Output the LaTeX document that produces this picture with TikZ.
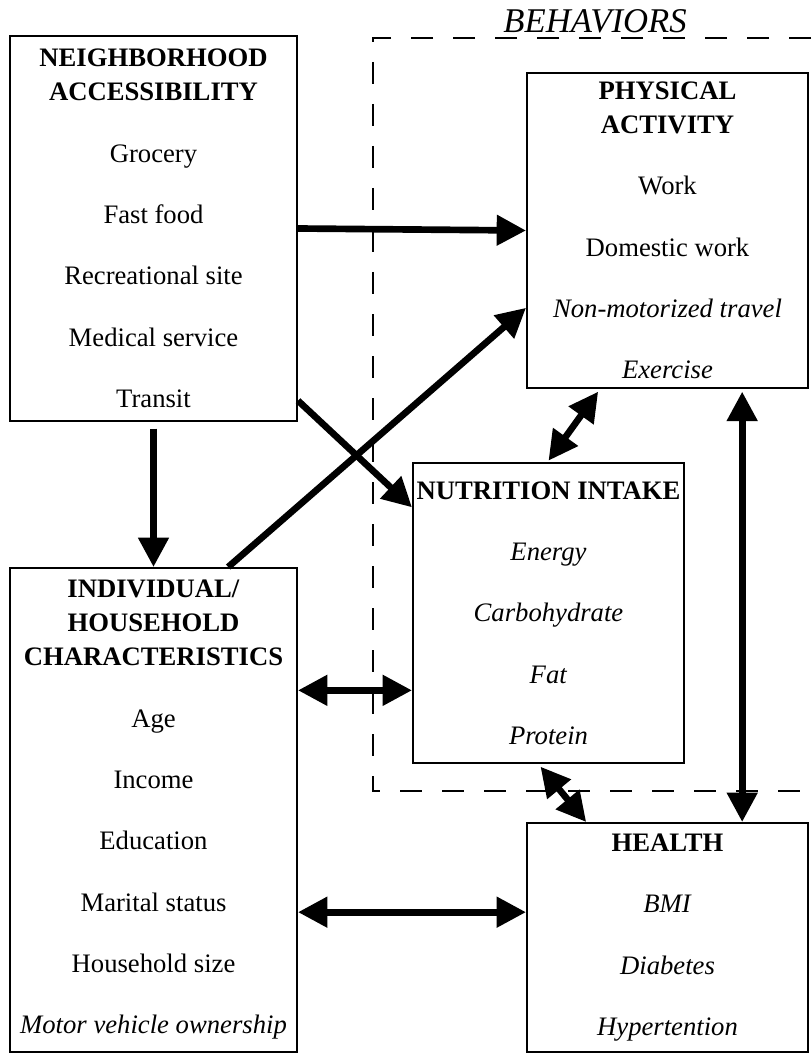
\documentclass[tikz,border=0pt]{standalone}
\usepackage{fontspec}
\setmainfont{Liberation Serif}
\usetikzlibrary{arrows.meta,positioning,calc}

\begin{document}
\begin{tikzpicture}[x=0.75pt,y=-0.75pt,
  box/.style={draw,line width=1.5pt,align=center,inner sep=0pt,font=\fontsize{20}{25.5}\selectfont},
  onearrow/.style={-{Triangle[length=22pt,width=22pt]},line width=5pt},
  twoarrow/.style={{Triangle[length=22pt,width=22pt]}-{Triangle[length=22pt,width=22pt]},line width=5pt},
  groupline/.style={line width=1.1pt,dash pattern=on 16.5pt off 15pt}]
\useasboundingbox (0,0) rectangle (811,1062);

% behaviors frame
\draw[groupline] (811,38) -- (373,38) -- (373,791) -- (811,791);
\node[font=\fontsize{26}{30}\selectfont\itshape,anchor=base] (behav) at (595,33) {BEHAVIORS};

\node[box,minimum width=215.25pt,minimum height=288.75pt] (nbh) at (153.5,228.5)
  {\textbf{NEIGHBORHOOD}\\\textbf{ACCESSIBILITY}\\[20.5pt]Grocery\\[20.5pt]Fast food\\[20.5pt]Recreational site\\[20.5pt]Medical service\\[20.5pt]Transit};
\node[box,minimum width=210.75pt,minimum height=236.25pt] (pa) at (667.5,230.5)
  {\textbf{PHYSICAL}\\\textbf{ACTIVITY}\\[20.5pt]Work\\[20.5pt]Domestic work\\[20.5pt]\textit{Non-motorized travel}\\[20.5pt]\textit{Exercise}};
\node[box,minimum width=203.25pt,minimum height=225pt] (nut) at (548.5,613)
  {\textbf{NUTRITION INTAKE}\\[20.5pt]\textit{Energy}\\[20.5pt]\textit{Carbohydrate}\\[20.5pt]\textit{Fat}\\[20.5pt]\textit{Protein}};
\node[box,minimum width=215.25pt,minimum height=363pt] (ind) at (153.5,810)
  {\textbf{INDIVIDUAL/}\\\textbf{HOUSEHOLD}\\\textbf{CHARACTERISTICS}\\[20.5pt]Age\\[20.5pt]Income\\[20.5pt]Education\\[20.5pt]Marital status\\[20.5pt]Household size\\[20.5pt]\textit{Motor vehicle ownership}};
\node[box,minimum width=210.75pt,minimum height=171.75pt] (hlth) at (667.5,937.5)
  {\textbf{HEALTH}\\[20.5pt]\textit{BMI}\\[20.5pt]\textit{Diabetes}\\[20.5pt]\textit{Hypertention}};

\coordinate (nutin) at ([yshift=-58pt]nut.west);
\coordinate (hlthin) at ([yshift=19pt]hlth.west);

\draw[onearrow] (nbh.east) -- (pa.west);
\draw[onearrow] ([xshift=56pt]ind.north) -- ([yshift=-58pt]pa.west);
\draw[onearrow] ([yshift=16pt]nbh.south east) -- ([yshift=-34pt]nut.north west);
\draw[onearrow] ([yshift=-5pt]nbh.south) -- (ind.north);
\draw[twoarrow] (nutin -| ind.east) -- (nutin);
\draw[twoarrow] ([xshift=-52pt,yshift=-2pt]pa.south) -- ([yshift=1pt]nut.north);
\draw[twoarrow] ([xshift=56pt,yshift=-2pt]pa.south) -- ([xshift=56pt]hlth.north);
\draw[twoarrow] ([xshift=-6pt,yshift=-2pt]nut.south) -- ([xshift=-61pt]hlth.north);
\draw[twoarrow] (hlthin -| ind.east) -- (hlthin);
\end{tikzpicture}
\end{document}
